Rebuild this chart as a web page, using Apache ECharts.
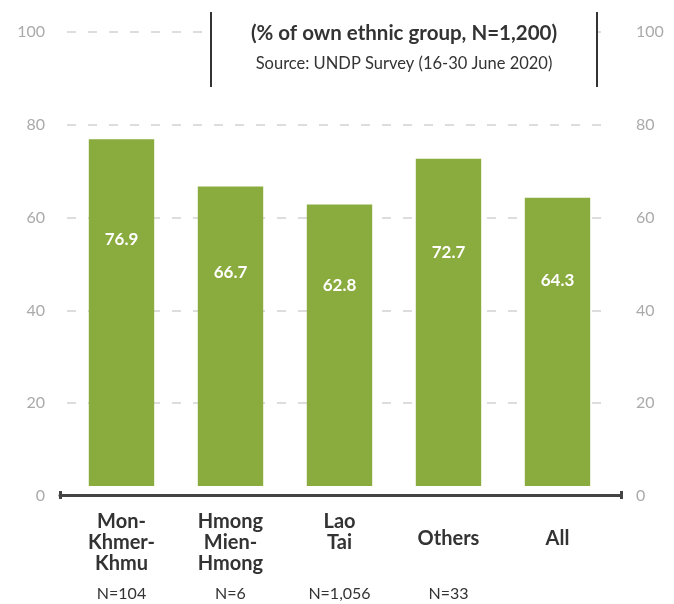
<!DOCTYPE html>
<html>
<head>
<meta charset="utf-8">
<script src="https://cdn.jsdelivr.net/npm/echarts@6/dist/echarts.min.js"></script>
<style>
  html, body { margin: 0; padding: 0; background: #fff; }
  #chart { width: 674px; height: 604px; }
</style>
</head>
<body>
<div id="chart"></div>
<script>
var groups = ['Mon-\nKhmer-\nKhmu', 'Hmong\nMien-\nHmong', 'Lao\nTai', 'Others', 'All'];
var sampleSizes = ['N=104', 'N=6', 'N=1,056', 'N=33', ''];
var shares = [76.9, 66.7, 62.8, 72.7, 64.3];

var FONT = 'Lato';
var green = '#8aab3e';

var chart = echarts.init(document.getElementById('chart'));

// bars stop a little short of the axis line, label sits about 70% up
function renderBar(params, api) {
    var i = api.value(0);
    var v = api.value(1);
    var top = api.coord([i, v]);
    var base = api.coord([i, 0]);
    var w = api.size([1, 0])[0] * 0.6;
    var bottom = base[1] - 10;
    var labelY = base[1] - 7 - 0.7 * (base[1] - top[1]);
    return {
        type: 'group',
        children: [{
            type: 'rect',
            shape: { x: top[0] - w / 2, y: top[1], width: w, height: bottom - top[1] },
            style: { fill: green }
        }, {
            type: 'text',
            x: top[0],
            y: labelY,
            style: {
                text: v.toFixed(1),
                fill: '#fff',
                font: 'bold 17px ' + FONT,
                align: 'center',
                verticalAlign: 'middle'
            }
        }]
    };
}

var yLabel = { color: '#aaa', fontSize: 16, fontFamily: FONT };

var option = {
    animation: false,
    grid: [
        { left: 67, right: 62, top: 32, bottom: 108 },
        { left: 60, right: 53, top: 32, bottom: 109 }
    ],
    xAxis: [{
        type: 'category',
        gridIndex: 0,
        data: groups,
        axisLine: { show: false },
        axisTick: { show: false },
        axisLabel: {
            interval: 0,
            margin: 15,
            color: '#333',
            fontFamily: FONT,
            fontSize: 20,
            fontWeight: 'bold',
            lineHeight: 21,
            formatter: function (v) {
                return v.indexOf('\n') < 0 ? '{one|' + v + '}' : v;
            },
            rich: {
                one: { padding: [34, 0, 0, 0], fontSize: 20, fontWeight: 'bold', color: '#333', fontFamily: FONT }
            }
        }
    }, {
        type: 'category',
        gridIndex: 0,
        position: 'bottom',
        data: sampleSizes,
        axisLine: { show: false },
        axisTick: { show: false },
        axisLabel: { interval: 0, margin: 90, color: '#333', fontFamily: FONT, fontSize: 16 }
    }, {
        type: 'value',
        gridIndex: 1,
        min: 0, max: 1, interval: 1,
        axisLine: { show: true, lineStyle: { color: '#444', width: 3 } },
        axisTick: { show: true, inside: true, length: 4, lineStyle: { color: '#444', width: 3 } },
        axisLabel: { show: false },
        splitLine: { show: false }
    }, {
        type: 'value',
        gridIndex: 1,
        position: 'bottom',
        min: 0, max: 1, interval: 1,
        axisLine: { show: false },
        axisTick: { show: true, length: 4, lineStyle: { color: '#444', width: 3 } },
        axisLabel: { show: false },
        splitLine: { show: false }
    }],
    yAxis: [{
        type: 'value',
        gridIndex: 0,
        min: 0, max: 100, interval: 20,
        axisLine: { show: false },
        axisTick: { show: false },
        axisLabel: Object.assign({ margin: 22 }, yLabel),
        splitLine: { lineStyle: { color: '#ddd', width: 2, type: [9, 12] } }
    }, {
        type: 'value',
        gridIndex: 0,
        position: 'right',
        min: 0, max: 100, interval: 20,
        axisLine: { show: false },
        axisTick: { show: false },
        axisLabel: Object.assign({ margin: 24 }, yLabel),
        splitLine: { show: false }
    }, {
        type: 'value',
        gridIndex: 1,
        show: false
    }],
    series: [{
        type: 'custom',
        xAxisIndex: 0,
        yAxisIndex: 0,
        renderItem: renderBar,
        data: shares.map(function (v, i) { return [i, v]; })
    }],
    graphic: [{
        type: 'rect',
        shape: { x: 211, y: 12, width: 386, height: 75 },
        style: { fill: '#fff' },
        z: 100
    }, {
        type: 'line',
        shape: { x1: 211, y1: 12, x2: 211, y2: 87 },
        style: { stroke: '#333', lineWidth: 2 },
        z: 101
    }, {
        type: 'line',
        shape: { x1: 597, y1: 12, x2: 597, y2: 87 },
        style: { stroke: '#333', lineWidth: 2 },
        z: 101
    }, {
        type: 'text',
        x: 404, y: 33,
        style: {
            text: '(% of own ethnic group, N=1,200)',
            font: 'bold 20.5px ' + FONT,
            fill: '#333',
            align: 'center',
            verticalAlign: 'middle'
        },
        z: 101
    }, {
        type: 'text',
        x: 404, y: 64,
        style: {
            text: 'Source: UNDP Survey (16-30 June 2020)',
            font: '16.5px ' + FONT,
            fill: '#333',
            align: 'center',
            verticalAlign: 'middle'
        },
        z: 101
    }]
};

chart.setOption(option);
</script>
</body>
</html>
